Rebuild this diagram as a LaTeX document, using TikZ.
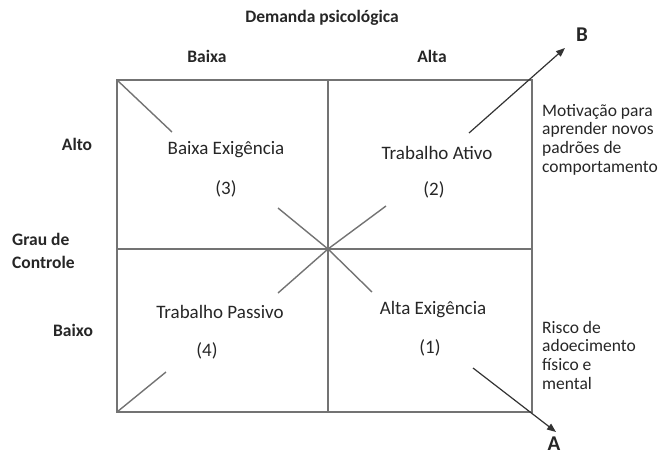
\documentclass[tikz,border=0pt]{standalone}
\usepackage{fontspec}
\setmainfont{Carlito}
\usetikzlibrary{arrows.meta}

\begin{document}
\begin{tikzpicture}
[
x=1pt, y=-1pt,
every node/.style={inner sep=0pt, text=black!85, font=\fontsize{19}{21}\selectfont},
grid/.style={draw=black!55, line width=1.4pt},
axis/.style={font=\bfseries\fontsize{17.5}{23}\selectfont},
big/.style={font=\bfseries\fontsize{21}{23}\selectfont},
note/.style={align=left, anchor=north west, font=\fontsize{17.5}{18.6}\selectfont},
tip/.style={-{Triangle[length=9pt,width=7pt]}, line width=1.2pt, draw=black!80}
]
\useasboundingbox (0,0) rectangle (672,458);

\coordinate (tl) at (117,80);
\coordinate (br) at (532,412);
\coordinate (bl) at (117,412);
\coordinate (mid) at (328,249);
\draw[grid] (tl) rectangle (br);
\draw[grid] (tl -| mid) -- (br -| mid);
\draw[grid] (tl |- mid) -- (br |- mid);

\node[axis] (demanda) at (322,18) {Demanda psicológica};
\node[axis] (baixa) at (207,56) {Baixa};
\node[axis] (alta) at (432,56) {Alta};
\node[axis] (alto) at (77,144) {Alto};
\node[axis, align=left, anchor=west] (grau) at (12,251) {Grau de\\Controle};
\node[axis] (baixo) at (73,330) {Baixo};

\node (q3) at (226,150) {Baixa Exigência};
\node (n3) at (226,189) {(3)};
\node (q2) at (437,153) {Trabalho Ativo};
\node (n2) at (434,190) {(2)};
\node (q4) at (220,312) {Trabalho Passivo};
\node (n4) at (207,351) {(4)};
\node (q1) at (433,310) {Alta Exigência};
\node (n1) at (430,348) {(1)};

\node[note] (motiv) at (542,104) {Motivação para\\aprender novos\\padrões de\\comportamento};
\node[note] (risco) at (542,321) {Risco de\\adoecimento\\físico e\\mental};

\node[big] (B) at (582,35) {B};
\node[big] (A) at (554,444) {A};

\coordinate (d1) at (172,132);
\coordinate (d2) at (278,208);
\coordinate (d3) at (386,206);
\coordinate (d4) at (469,133);
\coordinate (d5) at (278,293);
\coordinate (d6) at (166,372);
\coordinate (d7) at (372,292);
\coordinate (d8) at (473,368);
\coordinate (tipB) at (565,48);
\coordinate (tipA) at (556,432);

\draw[grid] (tl) -- (d1);
\draw[grid] (d2) -- (mid) -- (d3);
\draw[grid] (d5) -- (mid) -- (d7);
\draw[grid] (bl) -- (d6);
\draw[tip] (d4) -- (tipB);
\draw[tip] (d8) -- (tipA);
\end{tikzpicture}
\end{document}
